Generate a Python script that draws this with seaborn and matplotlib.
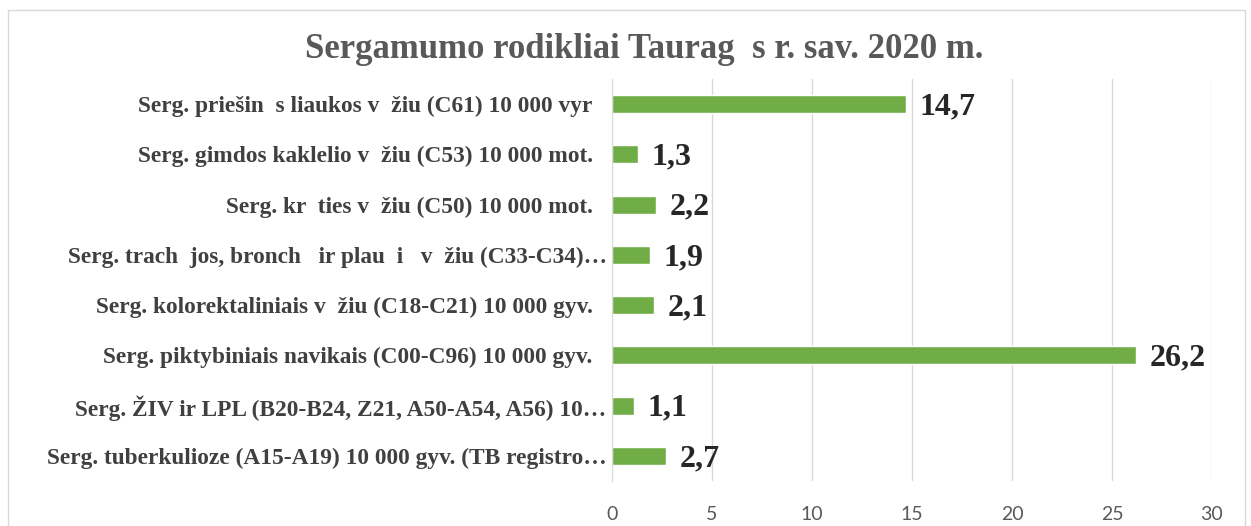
import matplotlib
matplotlib.use("Agg")
import matplotlib.pyplot as plt
from matplotlib.patches import Rectangle
from matplotlib.transforms import ScaledTranslation
import seaborn as sns

labels = [
    "Serg. priešin  s liaukos v  žiu (C61) 10 000 vyr",
    "Serg. gimdos kaklelio v  žiu (C53) 10 000 mot.",
    "Serg. kr  ties v  žiu (C50) 10 000 mot.",
    "Serg. trach  jos, bronch   ir plau  i   v  žiu (C33-C34)…",
    "Serg. kolorektaliniais v  žiu (C18-C21) 10 000 gyv.",
    "Serg. piktybiniais navikais (C00-C96) 10 000 gyv.",
    "Serg. ŽIV ir LPL (B20-B24, Z21, A50-A54, A56) 10…",
    "Serg. tuberkulioze (A15-A19) 10 000 gyv. (TB registro…",
]
values = [14.7, 1.3, 2.2, 1.9, 2.1, 26.2, 1.1, 2.7]
value_text = ["14,7", "1,3", "2,2", "1,9", "2,1", "26,2", "1,1", "2,7"]
xticks = [0, 5, 10, 15, 20, 25, 30]

sns.set_style("white")
fig = plt.figure(figsize=(12.51, 5.26), dpi=100)
ax = fig.add_axes([0.4892, 0.0856, 0.4796, 0.7642])

sns.barplot(x=values, y=labels, orient="h", color="#70AD47", width=0.36,
            saturation=1, ax=ax)

ax.set_xlim(0, 30)
ax.set_xticks(xticks)
ax.set_xticklabels([str(t) for t in xticks], family="Lato", fontsize=14,
                   color="#595959")
ax.tick_params(axis="x", length=0, pad=18)
ax.tick_params(axis="y", length=0, pad=14)
for t in ax.get_yticklabels():
    t.set_family("Liberation Serif")
    t.set_fontweight("bold")
    t.set_fontsize(16.8)
    t.set_color("#404040")
    # truncated labels run right up to the axis in the original
    if t.get_text().endswith("…"):
        t.set_transform(t.get_transform() + ScaledTranslation(14 / 100, 0, fig.dpi_scale_trans))
ax.grid(axis="x", color="#d9d9d9", linewidth=1)
ax.set_axisbelow(True)
for s in ["top", "right", "bottom"]:
    ax.spines[s].set_visible(False)
ax.spines["left"].set_color("#d9d9d9")
ax.set_xlabel("")
ax.set_ylabel("")

for i, (v, t) in enumerate(zip(values, value_text)):
    ax.annotate(t, xy=(v, i), xytext=(10, -2), textcoords="offset points",
                ha="left", va="center", family="Liberation Serif",
                fontweight="bold", fontsize=23, color="#262626")

fig.text(0.515, 0.905, "Sergamumo rodikliai Taurag  s r. sav. 2020 m.",
         ha="center", va="center", family="Liberation Serif",
         fontweight="bold", fontsize=25, color="#595959")

fig.patches.append(Rectangle((8 / 1251, -0.05), 1237 / 1251, 1.05 - 10 / 526,
                             transform=fig.transFigure, fill=False,
                             edgecolor="#d9d9d9", linewidth=1))

fig.savefig("out.png", dpi=100)
